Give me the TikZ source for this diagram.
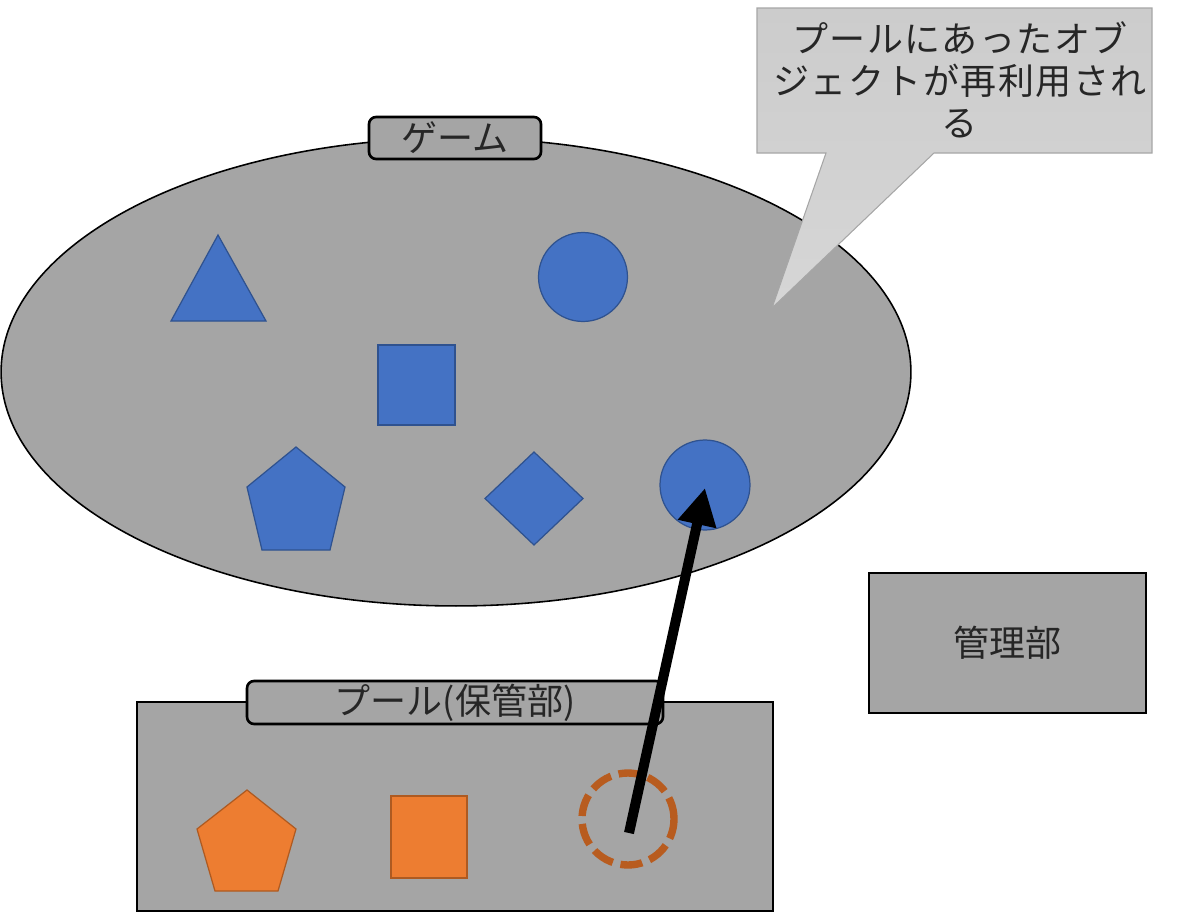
\documentclass[tikz,border=0pt]{standalone}
\usepackage{fontspec}
\setmainfont{Noto Sans CJK JP}
\usetikzlibrary{shapes.geometric,arrows.meta}
\definecolor{boxgray}{HTML}{A5A5A5}
\definecolor{objblue}{HTML}{4472C4}
\definecolor{objblueline}{HTML}{2F528F}
\definecolor{objorange}{HTML}{ED7D31}
\definecolor{objorangeline}{HTML}{AE5A21}
\definecolor{pooldash}{HTML}{B85C1F}
\definecolor{calloutfill}{HTML}{CCCCCC}
\definecolor{calloutline}{HTML}{A6A6A6}
\tikzset{
  txt/.style={font=\fontsize{20.5}{24}\selectfont, text=black!85},
  area/.style={draw=black, line width=1.2pt, fill=boxgray},
  tag/.style={draw=black, line width=1.5pt, fill=boxgray, rounded corners=4pt, inner sep=0pt, txt},
  blueobj/.style={draw=objblueline, line width=0.7pt, fill=objblue},
  orangeobj/.style={draw=objorangeline, line width=0.7pt, fill=objorange},
}
\begin{document}
\begin{tikzpicture}[x=0.02cm,y=-0.02cm]
\useasboundingbox (0,0) rectangle (1181,913);
% game area
\node[ellipse, draw=black, line width=0.9pt, fill=boxgray, minimum width=18.2cm, minimum height=9.36cm, inner sep=0pt] (game) at (456,372) {};
\node[tag, minimum width=3.44cm, minimum height=0.84cm] (gamelabel) at (455,138) {ゲーム};
% objects in game
\draw[blueobj] (218,235) -- (266,321) -- (171,321) -- cycle;
\node[circle, blueobj, minimum size=1.78cm, inner sep=0pt] (c1) at (583,277) {};
\node[rectangle, blueobj, minimum width=1.54cm, minimum height=1.6cm, inner sep=0pt] (sq) at (416.5,385) {};
\draw[blueobj] (296,447) -- (345,487) -- (330,550) -- (262,550) -- (247,487) -- cycle;
\draw[blueobj] (534,452) -- (583,498.5) -- (534,545) -- (485,498.5) -- cycle;
\node[circle, blueobj, minimum size=1.8cm, inner sep=0pt] (c2) at (705,485) {};
% callout
\draw[draw=calloutline, line width=0.6pt, top color=calloutfill, bottom color=calloutfill!80!white]
  (757,8) -- (1152,8) -- (1152,153) -- (934,153) -- (772,308) -- (826,153) -- (757,153) -- cycle;
\node[txt, align=center, font=\fontsize{20.5}{24}\addfontfeatures{LetterSpace=4}\selectfont] (callouttext) at (960,80) {プールにあったオブ\\ジェクトが再利用され\\る};
% manager
\node[area, minimum width=5.54cm, minimum height=2.8cm, inner sep=0pt, txt] (mgr) at (1007.5,643) {管理部};
% pool
\node[area, minimum width=12.72cm, minimum height=4.18cm, inner sep=0pt] (pool) at (455,806.5) {};
\node[tag, minimum width=8.32cm, minimum height=0.86cm] (poollabel) at (455,702.5) {プール(保管部)};
\draw[orangeobj] (247,790) -- (296,829) -- (278,891) -- (215,891) -- (197,829) -- cycle;
\node[rectangle, orangeobj, minimum width=1.52cm, minimum height=1.64cm, inner sep=0pt] (osq) at (429,837) {};
\node[circle, draw=pooldash, line width=4.2pt, dash pattern=on 12.5pt off 4.5pt, minimum size=1.84cm, inner sep=0pt] (pc) at (628,819) {};
% arrow
\coordinate (from) at (629,833);
\coordinate (to) at (705,488);
\draw[line width=5.7pt, -{Triangle[length=21pt,width=21pt]}] (from) -- (to);
\end{tikzpicture}
\end{document}
